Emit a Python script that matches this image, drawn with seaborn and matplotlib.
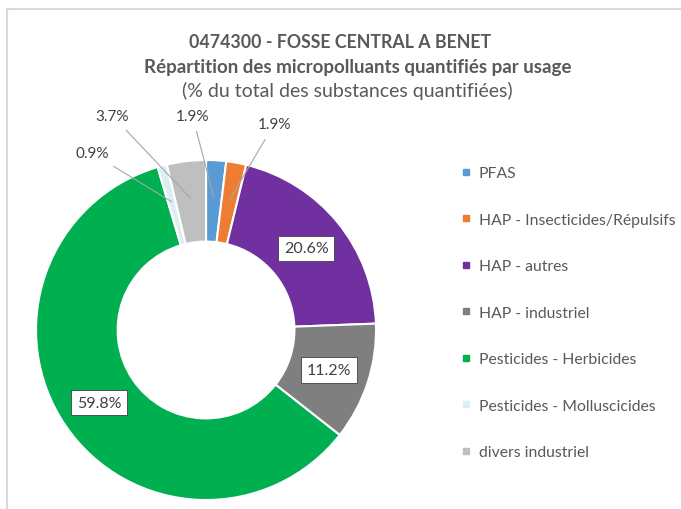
import numpy as np
import matplotlib
matplotlib.use("Agg")
import matplotlib.pyplot as plt
import seaborn as sns
from matplotlib.lines import Line2D

# ── data ───────────────────────────────────────────────────────────────
categories = ["PFAS", "HAP - Insecticides/Répulsifs", "HAP - autres",
              "HAP - industriel", "Pesticides - Herbicides",
              "Pesticides - Molluscicides", "divers industriel"]
shares = [1.9, 1.9, 20.6, 11.2, 59.8, 0.9, 3.7]
colors = ["#5B9BD5", "#ED7D31", "#7030A0", "#7F7F7F",
          "#00B050", "#DAEEF3", "#BFBFBF"]

title_lines = ["0474300 - FOSSE CENTRAL A BENET",
               "Répartition des micropolluants quantifiés par usage",
               "(% du total des substances quantifiées)"]

# outside labels for the thin slices: (index, text x, text y) in pie units
outside = [(0, -0.08, 1.26), (1, 0.40, 1.21), (6, -0.55, 1.26), (5, -0.67, 1.04)]

sns.set_theme(style="white")
plt.rcParams["font.family"] = ["Lato", "DejaVu Sans"]
txt = "#595959"

fig = plt.figure(figsize=(6.81, 5.10), dpi=100)
ax = fig.add_axes([0.0529, 0.0176, 0.4993, 0.6667])

wedges, _ = ax.pie(shares, colors=colors, startangle=90, counterclock=False,
                   radius=1.0,
                   wedgeprops=dict(width=0.48, edgecolor="white", linewidth=1.5))
ax.set_xlim(-1, 1)
ax.set_ylim(-1, 1)
ax.set_aspect("equal")
ax.axis("off")

# mid angles (degrees clockwise from top)
cum = np.cumsum([0] + shares)
mids = (cum[:-1] + cum[1:]) / 2 / sum(shares) * 360

big = [i for i, v in enumerate(shares) if v > 10]
for i in big:
    a = np.deg2rad(mids[i])
    ax.text(0.76 * np.sin(a), 0.76 * np.cos(a), f"{shares[i]:.1f}%",
            ha="center", va="center", fontsize=11.5, color="#404040",
            bbox=dict(boxstyle="square,pad=0.35", fc="white", ec="#404040", lw=0.6))

for i, tx, ty in outside:
    a = np.deg2rad(mids[i])
    px, py = 0.78 * np.sin(a), 0.78 * np.cos(a)
    ax.annotate(f"{shares[i]:.1f}%", xy=(px, py), xytext=(tx, ty),
                ha="center", va="center", fontsize=11, color="#404040",
                annotation_clip=False,
                arrowprops=dict(arrowstyle="-", color="#A6A6A6", lw=0.8,
                                shrinkA=4, shrinkB=0))

# titles
fig.text(0.50, 1 - 43 / 510, title_lines[0], ha="center", va="center",
         fontsize=12.8, fontweight="bold", color=txt)
fig.text(0.525, 1 - 68 / 510, title_lines[1], ha="center", va="center",
         fontsize=13.5, fontweight="bold", color=txt)
fig.text(0.51, 1 - 91 / 510, title_lines[2], ha="center", va="center",
         fontsize=14, color=txt)

# legend
handles = [Line2D([0], [0], marker="s", linestyle="", markersize=4,
                  markerfacecolor=c, markeredgecolor=c) for c in colors]
fig.legend(handles, categories, loc="upper left",
           bbox_to_anchor=(455 / 681, 1 - 161 / 510), frameon=False,
           fontsize=11.3, labelcolor=txt, handlelength=0.6, handletextpad=0.5,
           labelspacing=2.07, borderaxespad=0)

# partial chart-area frame (top and left edges)
fig.add_artist(Line2D([7 / 681, 1], [1 - 10 / 510] * 2, color="#D9D9D9", lw=1.5))
fig.add_artist(Line2D([7 / 681] * 2, [0, 1 - 10 / 510], color="#D9D9D9", lw=1.5))

fig.savefig("out.png", dpi=100)
